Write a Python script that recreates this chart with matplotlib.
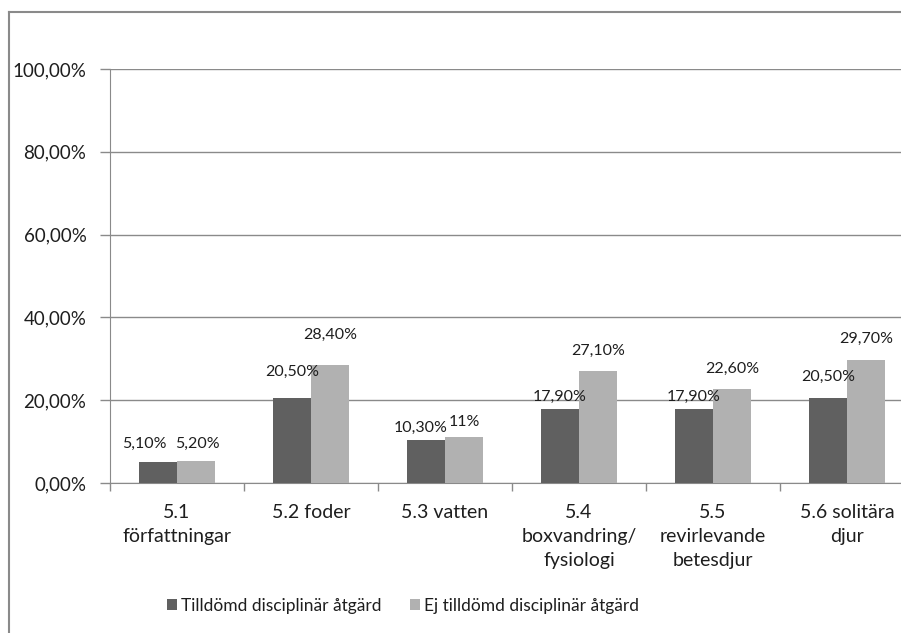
import matplotlib.pyplot as plt
import numpy as np
from matplotlib.lines import Line2D
from matplotlib.ticker import FixedLocator, FuncFormatter

plt.rcParams['font.family'] = ['Lato', 'DejaVu Sans']

categories = ["5.1\nförfattningar", "5.2 foder", "5.3 vatten",
              "5.4\nboxvandring/\nfysiologi", "5.5\nrevirlevande\nbetesdjur",
              "5.6 solitära\ndjur"]
tilldomd = [5.1, 20.5, 10.3, 17.9, 17.9, 20.5]
ej_tilldomd = [5.2, 28.4, 11.0, 27.1, 22.6, 29.7]
tilldomd_labels = ["5,10%", "20,50%", "10,30%", "17,90%", "17,90%", "20,50%"]
ej_labels = ["5,20%", "28,40%", "11%", "27,10%", "22,60%", "29,70%"]
series_names = ["Tilldömd disciplinär åtgärd", "Ej tilldömd disciplinär åtgärd"]

# label offsets in points (dx, dy), placed by hand like in the original
dark_off = [(-10, 13), (0, 19), (-4, 9), (0, 9), (0, 9), (0, 15)]
light_off = [(1, 13), (0, 22), (0, 11), (0, 14), (0, 15), (0, 15)]

dark = "#606060"
light = "#b1b1b1"
grid = "#8a8a8a"
txt = "#1e1e1e"

fig = plt.figure(figsize=(9.01, 6.33), dpi=100)
ax = fig.add_axes([110 / 901, 1 - 483 / 633, 804 / 901, (483 - 69) / 633])

x = np.arange(len(categories))
w = 0.284
b1 = ax.bar(x - w / 2, tilldomd, w, color=dark, label=series_names[0], zorder=3)
b2 = ax.bar(x + w / 2, ej_tilldomd, w, color=light, label=series_names[1], zorder=3)

for i in range(len(x)):
    ax.annotate(tilldomd_labels[i], (x[i] - w / 2, tilldomd[i]), xytext=dark_off[i],
                textcoords="offset points", ha="center", va="center", fontsize=11.5,
                color=txt)
    ax.annotate(ej_labels[i], (x[i] + w / 2, ej_tilldomd[i]), xytext=light_off[i],
                textcoords="offset points", ha="center", va="center", fontsize=11.5,
                color=txt)

ax.set_xlim(-0.5, len(categories) - 0.5)
ax.set_ylim(0, 100)
ax.set_yticks(np.arange(0, 101, 20))
ax.yaxis.set_major_formatter(FuncFormatter(lambda v, p: f"{v:.2f}".replace(".", ",") + "%"))
ax.yaxis.grid(True, color=grid, linewidth=1, zorder=0)

ax.set_xticks(x)
ax.set_xticklabels(categories, fontsize=14, linespacing=1.5, color=txt)
ax.xaxis.set_minor_locator(FixedLocator(np.arange(-0.5, len(categories), 1)))
ax.tick_params(axis="x", which="major", length=0, pad=15)
ax.tick_params(axis="x", which="minor", length=6, color=grid, width=1)
ax.tick_params(axis="y", length=7, color=grid, width=1, labelsize=13.5, pad=10,
               labelcolor=txt)

for s in ["top", "right"]:
    ax.spines[s].set_visible(False)
ax.spines["left"].set_color(grid)
ax.spines["bottom"].set_color(grid)

leg = fig.legend(handles=[b1, b2], labels=series_names, loc="center",
                 bbox_to_anchor=(403 / 901, 1 - 606 / 633), ncol=2, frameon=False,
                 fontsize=12.5, handlelength=0.6, handleheight=0.6, handletextpad=0.25,
                 columnspacing=1.6)
for t in leg.get_texts():
    t.set_color(txt)

# chart border (cut off on the right and bottom)
fig.add_artist(Line2D([9 / 901, 9 / 901], [0, 1 - 12 / 633], color=grid, linewidth=1.5))
fig.add_artist(Line2D([9 / 901, 1], [1 - 12 / 633, 1 - 12 / 633], color=grid, linewidth=1.5))

fig.savefig("out.png", dpi=100)
